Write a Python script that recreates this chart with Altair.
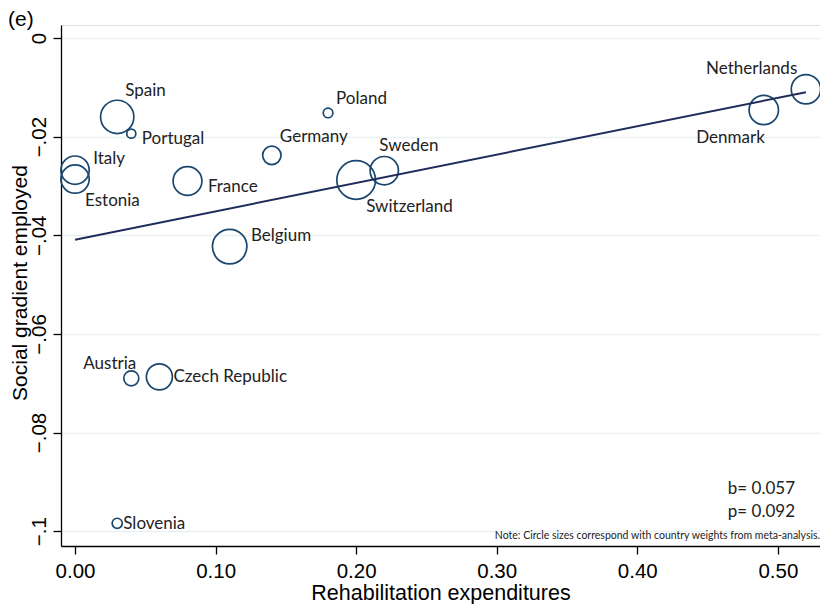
import altair as alt
import pandas as pd

# ---- data ----
countries = ["Spain", "Portugal", "Poland", "Germany", "Italy", "Estonia", "France",
             "Belgium", "Switzerland", "Sweden", "Denmark", "Netherlands", "Austria",
             "Czech Republic", "Slovenia"]
rehab_exp = [0.03, 0.04, 0.18, 0.14, 0.00, 0.00, 0.08,
             0.11, 0.20, 0.22, 0.49, 0.52, 0.04,
             0.06, 0.03]
gradient = [-0.0160, -0.0194, -0.0152, -0.0238, -0.0268, -0.0286, -0.0290,
            -0.0423, -0.0288, -0.0269, -0.0146, -0.0104, -0.0690,
            -0.0687, -0.0984]
weights = [10.8, 0.8, 0.9, 3.3, 7.8, 7.8, 8.1,
           11.6, 14.6, 7.8, 8.4, 8.4, 2.2,
           6.6, 1.0]
# Stata-like label position codes
label_pos = ["1", "4", "1", "1", "2", "5", "4",
             "2", "5", "12l", "7", "11", "12r",
             "3", "3"]

fit_x = [0.0, 0.52]
fit_y = [-0.0409, -0.0110]

y_ticks = [0, -0.02, -0.04, -0.06, -0.08, -0.1]
x_ticks = [0.0, 0.1, 0.2, 0.3, 0.4, 0.5]

stat_b = "b= 0.057"
stat_p = "p= 0.092"
note_text = "Note: Circle sizes correspond with country weights from meta-analysis."
panel_label = "(e)"

df = pd.DataFrame({"country": countries, "x": rehab_exp, "y": gradient,
                   "w": weights, "pos": label_pos})
fit_df = pd.DataFrame({"x": fit_x, "y": fit_y})

W_MAX = 15
SIZE_MAX = 1540   # vega symbol size for W_MAX (radius = sqrt(size)/2)

xscale = alt.Scale(domain=[-0.01, 0.53], nice=False, zero=False)
yscale = alt.Scale(domain=[-0.1030, 0.00263], nice=False, zero=False)

X = alt.X("x:Q", scale=xscale,
          axis=alt.Axis(values=x_ticks, format=".2f", title="Rehabilitation expenditures",
                        grid=False, tickSize=8, tickColor="black", domainColor="black",
                        domainWidth=1.3, tickWidth=1.3,
                        labelFont="Liberation Sans", labelFontSize=20.5, labelColor="black",
                        labelPadding=7.5, labelFlush=False,
                        titleFont="Liberation Sans", titleFontSize=21.5, titleFontWeight="normal",
                        titleColor="black", titleBaseline="top", titleY=36.4, titleX=379.5,
                        titleAlign="center"))
Y = alt.Y("y:Q", scale=yscale,
          axis=alt.Axis(values=y_ticks, title="Social gradient employed",
                        labelExpr="replace(format(datum.value, '.2~f'), '0.', '.')",
                        grid=True, gridColor="#eaf1f4", gridWidth=1.5,
                        tickSize=8, tickColor="black", domainColor="black",
                        domainWidth=1.3, tickWidth=1.3,
                        labelAngle=270, labelAlign="center", labelBaseline="alphabetic",
                        labelFont="Liberation Sans", labelFontSize=20.5, labelColor="black",
                        labelPadding=8, labelFlush=False,
                        titleFont="Liberation Sans", titleFontSize=21, titleFontWeight="normal",
                        titleColor="black", titleAngle=270, titleBaseline="alphabetic",
                        titleX=-35, titleY=257.5, titleAlign="center"))

base = alt.Chart(df)

circles = base.mark_point(shape="circle", filled=False, color="#1a476f",
                          strokeWidth=1.7, opacity=1).encode(
    x=X, y=Y,
    size=alt.Size("w:Q", scale=alt.Scale(domain=[0, W_MAX], range=[0, SIZE_MAX], zero=True),
                  legend=None),
)

fit = alt.Chart(fit_df).mark_line(color="#1f2c5c", strokeWidth=2).encode(
    x=alt.X("x:Q", scale=xscale), y=alt.Y("y:Q", scale=yscale))

rules = {
    "1":   ("left",  "8",              "-(datum.r + 9)"),
    "12l": ("left",  "-5",             "-(datum.r + 11)"),
    "12r": ("right", "5",              "-(datum.r + 7)"),
    "2":   ("left",  "datum.r + 4",    "-11"),
    "3":   ("left",  "datum.r + 1",    "0.5"),
    "4":   ("left",  "datum.r + 6",    "5.5"),
    "5":   ("left",  "10",             "datum.r + 8"),
    "7":   ("right", "1",              "datum.r + 13"),
    "11":  ("right", "6 - datum.r",    "-(datum.r + 6)"),
}

label_layers = []
for code, (align, dxe, dye) in rules.items():
    lay = base.transform_filter(alt.datum.pos == code).transform_calculate(
        r=f"sqrt(datum.w * {SIZE_MAX} / {W_MAX}) / 2"
    ).mark_text(align=align, baseline="middle", font="Lato", fontSize=17,
                color="#222222", dx=alt.ExprRef(dxe), dy=alt.ExprRef(dye)).encode(
        x=alt.X("x:Q", scale=xscale), y=alt.Y("y:Q", scale=yscale), text="country:N")
    label_layers.append(lay)


def annotation(text, px, py, size, align="right"):
    return alt.Chart(pd.DataFrame({"t": [text]})).mark_text(
        align=align, baseline="middle", font="Lato", fontSize=size, color="#222222").encode(
        x=alt.value(px), y=alt.value(py), text="t:N")


stats_b = annotation(stat_b, 734, 464, 17)
stats_p = annotation(stat_p, 734, 487, 17)
note = annotation(note_text, 759, 511, 10.5)

panel = alt.Chart(pd.DataFrame({"t": [panel_label]})).mark_text(
    align="left", baseline="middle", font="Liberation Sans", fontSize=21, color="black").encode(
    x=alt.value(-53), y=alt.value(-5), text="t:N")

chart = alt.layer(circles, fit, *label_layers, stats_b, stats_p, note, panel).properties(
    width=759, height=521,
    autosize=alt.AutoSizeParams(type="none"),
    padding={"left": 53, "top": 17, "right": 0, "bottom": 58},
).configure_view(stroke=None).configure(background="white")

chart.save("out.html", embed_options={"renderer": "svg", "actions": False})
